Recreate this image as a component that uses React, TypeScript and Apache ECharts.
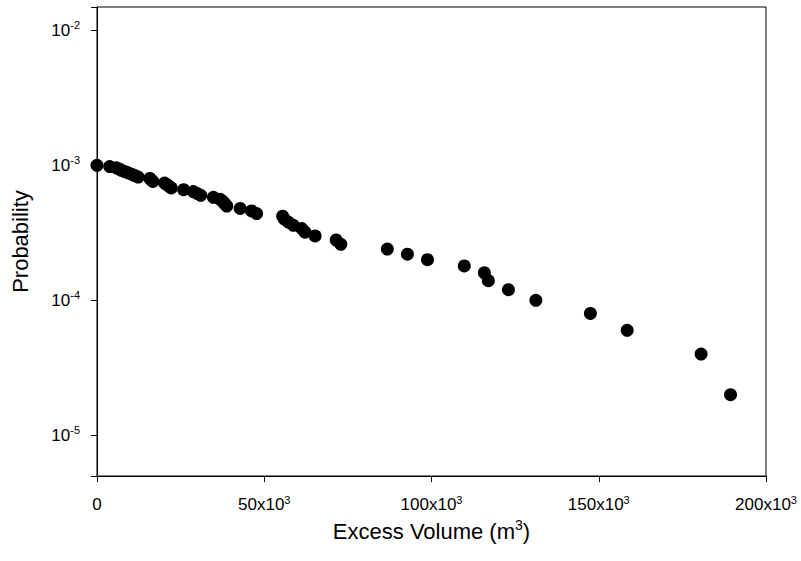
import React, { useEffect, useRef } from "react";
import * as echarts from "echarts";

// Excess volume (m^3) for each point
const excessVolume: number[] = [
  0, 3800, 5800, 6600, 7300, 8300, 9300, 10300, 11300, 12300,
  15800, 16200, 16700, 20200, 20900, 21600, 22200, 25900, 28800, 29900,
  31000, 34800, 36800, 37600, 38200, 38800, 42800, 46200, 47700, 55500,
  56000, 57200, 58700, 61200, 62200, 65200, 71500, 72900, 86800, 92800,
  98800, 109800, 115800, 117000, 123000, 131200, 147500, 158500, 180600, 189400,
];
// Exceedance probability for each point
const probability: number[] = [
  1.0e-3, 9.8e-4, 9.6e-4, 9.4e-4, 9.2e-4, 9.0e-4, 8.8e-4, 8.6e-4, 8.4e-4, 8.2e-4,
  8.0e-4, 7.8e-4, 7.6e-4, 7.4e-4, 7.2e-4, 7.0e-4, 6.8e-4, 6.6e-4, 6.4e-4, 6.2e-4,
  6.0e-4, 5.8e-4, 5.6e-4, 5.4e-4, 5.2e-4, 5.0e-4, 4.8e-4, 4.6e-4, 4.4e-4, 4.2e-4,
  4.0e-4, 3.8e-4, 3.6e-4, 3.4e-4, 3.2e-4, 3.0e-4, 2.8e-4, 2.6e-4, 2.4e-4, 2.2e-4,
  2.0e-4, 1.8e-4, 1.6e-4, 1.4e-4, 1.2e-4, 1.0e-4, 8.0e-5, 6.0e-5, 4.0e-5, 2.0e-5,
];
const xTitle = "Excess Volume (m";
const yTitle = "Probability";

const FONT = "Liberation Sans, Arial, sans-serif";

export default function App() {
  const ref = useRef<HTMLDivElement>(null);
  useEffect(() => {
    if (!ref.current) return;
    const chart = echarts.init(ref.current, undefined, { renderer: "svg" });
    const data = excessVolume.map((x, i) => [x, probability[i]]);
    chart.setOption({
      animation: false,
      backgroundColor: "#fff",
      textStyle: { fontFamily: FONT, color: "#000" },
      grid: {
        left: 97,
        right: 35,
        top: 7,
        bottom: 85,
        show: true,
        borderColor: "#000",
        borderWidth: 1,
        backgroundColor: "transparent",
      },
      xAxis: {
        type: "value",
        min: 0,
        max: 200000,
        interval: 50000,
        name: xTitle + "{s|3}{n|)}",
        nameLocation: "middle",
        nameGap: 41,
        nameTextStyle: {
          fontFamily: FONT,
          fontSize: 22,
          color: "#000",
          rich: {
            s: { fontSize: 14, fontFamily: FONT, color: "#000", verticalAlign: "top", lineHeight: 27 },
            n: { fontSize: 22, fontFamily: FONT, color: "#000", lineHeight: 27 },
          },
        },
        splitLine: { show: false },
        axisLine: { show: true, onZero: false, lineStyle: { color: "#000", width: 1 } },
        axisTick: { show: true, inside: false, length: 6, lineStyle: { color: "#000" } },
        axisLabel: {
          margin: 18,
          formatter: (v: number) => (v === 0 ? "{a|0}" : `{a|${v / 1000}x10}{b|3}`),
          rich: {
            a: { fontSize: 17, fontFamily: FONT, color: "#000", lineHeight: 21 },
            b: { fontSize: 11, fontFamily: FONT, color: "#000", verticalAlign: "top", lineHeight: 21 },
          },
        },
      },
      yAxis: {
        type: "log",
        logBase: 10,
        min: 5e-6,
        max: 0.0149,
        name: yTitle,
        nameLocation: "middle",
        nameGap: 66,
        nameRotate: 90,
        nameTextStyle: { fontFamily: FONT, fontSize: 22, color: "#000" },
        splitLine: { show: false },
        axisLine: { show: true, lineStyle: { color: "#000", width: 1 } },
        axisTick: { show: true, inside: false, length: 6, lineStyle: { color: "#000" } },
        axisLabel: {
          margin: 17,
          formatter: (v: number) => {
            const e = Math.log10(v);
            if (Math.abs(e - Math.round(e)) > 1e-6) return "";
            return `{a|10}{b|${Math.round(e)}}`;
          },
          rich: {
            a: { fontSize: 17, fontFamily: FONT, color: "#000", lineHeight: 21 },
            b: { fontSize: 11, fontFamily: FONT, color: "#000", verticalAlign: "top", lineHeight: 21 },
          },
        },
      },
      series: [
        {
          type: "scatter",
          data,
          symbol: "circle",
          symbolSize: 13,
          itemStyle: { color: "#000", opacity: 1 },
        },
      ],
    });
    return () => chart.dispose();
  }, []);
  return (
    <div
      ref={ref}
      style={{ position: "fixed", left: 0, top: 0, width: 801, height: 561 }}
    />
  );
}
